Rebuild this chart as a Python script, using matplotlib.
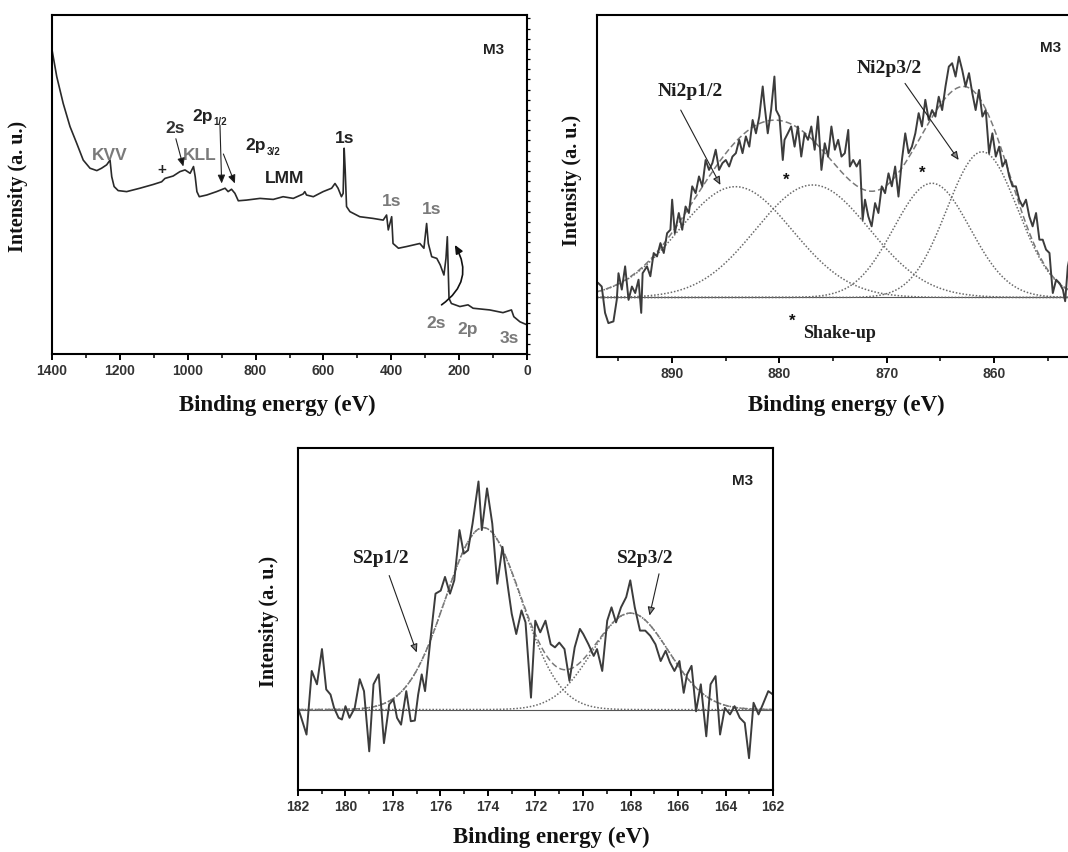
import numpy as np
import matplotlib
matplotlib.use("Agg")
import matplotlib.pyplot as plt
from matplotlib.ticker import MultipleLocator

# ---- survey spectrum (binding energy, intensity a.u.) ----
survey_be = [1400, 1386, 1367, 1347, 1327, 1308, 1288, 1268, 1254, 1239,
             1229, 1224, 1217, 1205, 1180, 1141, 1102, 1077, 1067, 1043,
             1023, 1008, 993, 983, 978, 973, 966, 944, 915, 890,
             881, 871, 861, 851, 827, 787, 748, 719, 689, 660,
             655, 650, 630, 601, 576, 566, 557, 547, 542, 539,
             536, 532, 522, 493, 454, 424, 414, 409, 399, 395,
             379, 355, 316, 304, 296, 291, 281, 266, 256, 245,
             239, 235, 230, 223, 198, 174, 159, 110, 71, 46,
             39, 21, 0]
survey_int = [89.7, 81.8, 73.9, 67.1, 62.1, 57.2, 54.8, 54.1, 54.8, 55.8,
              57.2, 52.3, 49.4, 48.2, 47.9, 48.9, 50.0, 50.8, 51.8, 52.5,
              53.8, 54.3, 53.3, 55.3, 52.3, 47.9, 46.4, 46.9, 47.9, 48.9,
              47.9, 48.6, 47.4, 45.2, 45.4, 45.9, 45.6, 46.4, 45.9, 47.2,
              47.9, 46.9, 46.4, 47.9, 48.9, 50.3, 48.9, 46.4, 47.4, 60.7,
              54.3, 43.5, 42.0, 40.5, 40.0, 39.5, 41.0, 36.6, 40.5, 32.6,
              31.2, 31.7, 32.6, 31.2, 38.5, 32.6, 28.7, 28.2, 26.3, 23.3,
              28.2, 34.6, 16.4, 14.9, 14.0, 14.5, 13.5, 13.0, 12.2, 13.0,
              11.0, 9.5, 8.6]

# ---- Ni 2p spectrum ----
ni_be = [896.88, 896.56, 896.25, 895.94, 895.47, 895.16, 895.0, 894.69, 894.38, 894.06,
         893.75, 893.44, 893.13, 892.88, 892.75, 892.34, 892.03, 891.72, 891.41, 891.09,
         890.78, 890.47, 890.16, 890.0, 889.75, 889.38, 889.06, 888.75, 888.44, 888.13,
         887.81, 887.5, 887.19, 886.88, 886.56, 886.25, 885.94, 885.63, 885.31, 885.0,
         884.69, 884.38, 884.06, 883.75, 883.44, 883.13, 882.81, 882.5, 882.19, 881.88,
         881.56, 881.41, 881.09, 880.78, 880.47, 880.31, 880.0, 879.69, 879.53, 879.22,
         878.91, 878.59, 878.28, 877.97, 877.66, 877.34, 877.03, 876.72, 876.41, 876.09,
         875.78, 875.47, 875.16, 874.84, 874.53, 874.22, 873.91, 873.59, 873.44, 873.13,
         872.81, 872.5, 872.25, 872.03, 871.72, 871.41, 871.09, 870.78, 870.47, 870.16,
         869.84, 869.53, 869.22, 868.91, 868.59, 868.28, 867.97, 867.66, 867.34, 867.03,
         866.72, 866.41, 866.09, 865.78, 865.47, 865.16, 864.84, 864.53, 864.22, 863.91,
         863.59, 863.28, 862.97, 862.66, 862.34, 862.03, 861.72, 861.41, 861.09, 860.78,
         860.47, 860.16, 859.84, 859.53, 859.22, 858.91, 858.59, 858.28, 857.97, 857.66,
         857.34, 857.03, 856.72, 856.41, 856.09, 855.78, 855.47, 855.16, 854.84, 854.69,
         854.53, 854.22, 853.91, 853.59, 853.38, 853.13, 852.88, 852.69]
ni_int = [21.6, 20.6, 12.9, 9.9, 10.4, 16.7, 24.5, 19.7, 26.5, 16.7,
          20.6, 18.7, 22.6, 12.9, 24.5, 26.5, 23.6, 30.4, 29.4, 33.3,
          30.4, 36.2, 37.2, 46.0, 36.2, 42.1, 37.2, 44.0, 42.1, 49.9,
          47.9, 52.8, 49.9, 57.6, 54.7, 56.7, 60.6, 54.7, 56.7, 57.6,
          55.7, 58.6, 59.6, 63.5, 59.6, 64.5, 61.5, 69.3, 65.4, 70.3,
          79.1, 74.2, 65.4, 72.2, 82.0, 72.2, 70.3, 57.6, 63.5, 65.4,
          67.4, 61.5, 67.4, 58.6, 65.4, 63.5, 67.4, 60.6, 70.3, 54.7,
          62.5, 58.6, 67.4, 60.6, 63.5, 58.6, 59.6, 66.4, 55.7, 57.6,
          55.7, 57.6, 40.1, 46.0, 41.1, 38.2, 45.0, 42.1, 49.9, 47.9,
          53.7, 49.9, 55.7, 46.9, 57.6, 65.4, 59.6, 61.5, 65.4, 71.3,
          67.4, 75.2, 69.3, 72.2, 70.3, 76.1, 72.2, 79.1, 84.9, 85.9,
          82.0, 87.8, 83.9, 79.1, 83.0, 77.1, 72.2, 78.1, 70.3, 72.2,
          59.6, 65.4, 58.6, 61.5, 55.7, 57.6, 52.8, 49.9, 49.9, 46.0,
          44.0, 46.0, 41.1, 38.2, 42.1, 34.3, 34.3, 31.4, 30.4, 24.5,
          18.7, 22.6, 21.6, 19.7, 16.3, 26.5, 30.4, 27.5]
ni_base = 17.4
# fitted components: center (eV), height above baseline, sigma (eV)
ni_centers = [884.1, 876.9, 865.8, 861.1]
ni_heights = [32.4, 32.9, 33.4, 42.6]
ni_sigmas = [5.3, 5.3, 3.56, 3.3]

# ---- S 2p spectrum ----
s_be = [182.0, 181.86, 181.64, 181.42, 181.20, 180.99, 180.81, 180.63, 180.48, 180.29,
        180.15, 180.0, 179.83, 179.61, 179.40, 179.22, 179.0, 178.82, 178.60, 178.38,
        178.16, 177.98, 177.83, 177.66, 177.44, 177.25, 177.08, 176.94, 176.79, 176.65,
        176.43, 176.21, 175.99, 175.81, 175.60, 175.42, 175.20, 175.02, 174.84, 174.65,
        174.40, 174.26, 174.04, 173.82, 173.61, 173.39, 173.14, 173.0, 172.81, 172.59,
        172.42, 172.19, 172.01, 171.80, 171.58, 171.36, 171.18, 171.0, 170.78, 170.57,
        170.35, 170.13, 169.99, 169.77, 169.55, 169.41, 169.19, 168.98, 168.80, 168.61,
        168.40, 168.18, 168.01, 167.82, 167.60, 167.38, 167.17, 166.95, 166.73, 166.52,
        166.34, 166.15, 165.94, 165.76, 165.62, 165.43, 165.24, 165.04, 164.81, 164.63,
        164.42, 164.23, 164.03, 163.81, 163.62, 163.40, 163.19, 163.01, 162.82, 162.61,
        162.43, 162.20, 162.0]
s_int = [24.0, 21.1, 16.2, 34.8, 30.9, 41.2, 29.4, 27.9, 24.0, 21.1,
         20.6, 24.5, 21.1, 24.0, 32.4, 28.9, 11.3, 30.9, 33.8, 13.7,
         25.0, 26.5, 21.1, 19.1, 28.9, 20.1, 20.3, 27.9, 33.8, 28.9,
         43.6, 57.4, 58.3, 62.3, 57.4, 61.3, 76.0, 69.1, 70.1, 77.9,
         90.2, 76.0, 88.2, 77.9, 60.3, 71.1, 58.3, 51.5, 45.6, 52.5,
         49.0, 27.0, 49.5, 46.1, 49.5, 42.6, 41.7, 43.1, 41.2, 31.9,
         41.7, 47.1, 45.6, 42.6, 39.2, 41.2, 34.8, 49.5, 53.4, 49.0,
         53.4, 56.4, 61.3, 53.4, 46.6, 46.6, 45.1, 42.6, 37.7, 40.7,
         37.3, 34.8, 37.7, 28.4, 33.8, 36.3, 23.0, 30.9, 15.7, 30.9,
         33.3, 16.2, 24.0, 22.1, 24.5, 21.1, 19.6, 9.3, 25.5, 22.1,
         25.0, 28.9, 27.9]
s_base = 23.5
s_centers = [174.2, 168.0]
s_heights = [53.2, 28.2]
s_sigmas = [1.6, 1.6]

SANS = "Liberation Sans"
SERIF = "Liberation Serif"
LINE = "#3c3c3c"
GRAY = "#7a7a7a"

fig = plt.figure(figsize=(10.68, 8.52), dpi=100)
ax1 = fig.add_axes([0.0487, 0.5845, 0.4448, 0.3979])
ax2 = fig.add_axes([0.559, 0.581, 0.4522, 0.4014])
ax3 = fig.add_axes([0.279, 0.0728, 0.4448, 0.4014])


def style(ax):
    for sp in ax.spines.values():
        sp.set_linewidth(1.5)
    ax.tick_params(axis="x", which="major", direction="out", length=4.5, width=1.4,
                   labelsize=10, pad=3)
    ax.tick_params(axis="x", which="minor", direction="out", length=3, width=1.1)
    for lab in ax.get_xticklabels():
        lab.set_fontfamily(SANS)
        lab.set_fontweight("bold")
        lab.set_color("#333333")
    ax.set_yticks([])
    ax.set_ylim(0, 100)


def gauss(x, c, h, s):
    return h * np.exp(-(x - c) ** 2 / (2 * s ** 2))


def arrow(ax, xy, xytext, head="0.55"):
    ax.annotate("", xy=xy, xytext=xytext,
                arrowprops=dict(arrowstyle="-|>,head_length=0.5,head_width=0.22",
                                ec="#222222", fc=head, lw=0.8, shrinkA=0, shrinkB=0))


# ---------------- survey ----------------
ax1.plot(survey_be, survey_int, color="#2a2a2a", lw=1.2)
ax1.set_xlim(1400, 0)
ax1.xaxis.set_major_locator(MultipleLocator(200))
ax1.xaxis.set_minor_locator(MultipleLocator(100))
style(ax1)
ax1.yaxis.set_ticks_position("right")
ax1.yaxis.set_minor_locator(MultipleLocator(3))
ax1.tick_params(axis="y", which="minor", direction="out", length=2.5, width=0.9)

atxt = dict(family=SANS, fontweight="bold", fontsize=12.5, ha="center", va="center")
ax1.text(100, 89.7, "M3", color="#222222", **{**atxt, "fontsize": 11})
ax1.text(1229, 58.7, "KVV", color=GRAY, **atxt)
ax1.text(1038, 66.6, "2s", color="#333333", **atxt)
ax1.text(964, 58.7, "KLL", color=GRAY, **atxt)
ax1.text(955, 70.2, "2p", color="#222222", **atxt)
ax1.text(923, 68.4, "1/2", color="#222222", family=SANS, fontweight="bold", fontsize=7,
         ha="left", va="center")
ax1.text(800, 61.5, "2p", color="#222222", **atxt)
ax1.text(768, 59.7, "3/2", color="#222222", family=SANS, fontweight="bold", fontsize=7,
         ha="left", va="center")
ax1.text(714, 51.8, "LMM", color="#222222", **atxt)
ax1.text(537, 63.6, "1s", color="#222222", **atxt)
ax1.text(399, 44.9, "1s", color=GRAY, **atxt)
ax1.text(282, 42.5, "1s", color=GRAY, **atxt)
ax1.text(267, 9.0, "2s", color=GRAY, **atxt)
ax1.text(174, 7.1, "2p", color=GRAY, **atxt)
ax1.text(51, 4.6, "3s", color=GRAY, **atxt)
ax1.text(1077, 54.3, "+", color="#222222", **{**atxt, "fontsize": 11})
arrow(ax1, (1013, 55.3), (1035, 63.5), head="#111111")
arrow(ax1, (900, 50.3), (905, 67.5), head="#111111")
arrow(ax1, (861, 50.3), (895, 59.0), head="#111111")
ax1.annotate("", xy=(213, 32.2), xytext=(252, 14.5),
             arrowprops=dict(arrowstyle="-|>,head_length=0.5,head_width=0.22",
                             ec="#111111", fc="#111111", lw=1.2,
                             connectionstyle="arc3,rad=0.45", shrinkA=0, shrinkB=0))

# ---------------- Ni 2p ----------------
ni_x = np.linspace(897, 852, 400)
ni_comp = [gauss(ni_x, c, h, s) for c, h, s in zip(ni_centers, ni_heights, ni_sigmas)]
ax2.axhline(ni_base, color="#555555", lw=0.8)
for comp in ni_comp:
    ax2.plot(ni_x, ni_base + comp, color="#6a6a6a", lw=1.1, ls=(0, (1, 1.2)))
ax2.plot(ni_x, ni_base + np.sum(ni_comp, axis=0), color=GRAY, lw=1.1, ls=(0, (4, 2)))
ax2.plot(ni_be, ni_int, color=LINE, lw=1.4)
ax2.set_xlim(897, 852)
ax2.xaxis.set_major_locator(MultipleLocator(10))
ax2.xaxis.set_minor_locator(MultipleLocator(5))
style(ax2)
ax2.spines["right"].set_visible(False)

ttxt = dict(family=SERIF, fontweight="bold", fontsize=14, ha="center", va="center",
            color="#1e1e1e")
ax2.text(854.7, 90.3, "M3", family=SANS, fontweight="bold", fontsize=11, ha="center",
         va="center", color="#222222")
ax2.text(888.3, 77.6, "Ni2p1/2", **ttxt)
ax2.text(869.8, 84.4, "Ni2p3/2", **ttxt)
arrow(ax2, (885.5, 50.3), (889.2, 72.2))
arrow(ax2, (863.3, 57.6), (868.3, 80.0))
ax2.text(879.4, 51.8, "*", family=SANS, fontweight="bold", fontsize=12, ha="center",
         va="center", color="#111111")
ax2.text(866.7, 53.7, "*", family=SANS, fontweight="bold", fontsize=12, ha="center",
         va="center", color="#111111")
ax2.text(878.8, 10.4, "*", family=SANS, fontweight="bold", fontsize=12, ha="center",
         va="center", color="#111111")
ax2.text(877.8, 7.0, "Shake-up", family=SERIF, fontweight="bold", fontsize=13,
         ha="left", va="center", color="#1e1e1e")

# ---------------- S 2p ----------------
s_x = np.linspace(182, 162, 400)
s_comp = [gauss(s_x, c, h, s) for c, h, s in zip(s_centers, s_heights, s_sigmas)]
ax3.axhline(s_base, color="#555555", lw=0.8)
for comp in s_comp:
    ax3.plot(s_x, s_base + comp, color="#6a6a6a", lw=1.1, ls=(0, (1, 1.2)))
ax3.plot(s_x, s_base + np.sum(s_comp, axis=0), color=GRAY, lw=1.1, ls=(0, (4, 2)))
ax3.plot(s_be, s_int, color=LINE, lw=1.4)
ax3.set_xlim(182, 162)
ax3.xaxis.set_major_locator(MultipleLocator(2))
ax3.xaxis.set_minor_locator(MultipleLocator(1))
style(ax3)

ax3.text(163.3, 90.2, "M3", family=SANS, fontweight="bold", fontsize=11, ha="center",
         va="center", color="#222222")
ax3.text(178.5, 67.6, "S2p1/2", **ttxt)
ax3.text(167.4, 67.6, "S2p3/2", **ttxt)
arrow(ax3, (177.0, 40.2), (178.16, 62.7))
arrow(ax3, (167.2, 51.0), (166.8, 63.2))

# axis labels
lab = dict(family=SERIF, fontweight="bold", ha="center", va="center", color="#111111")
fig.text(277 / 1068, 1 - 405 / 852, "Binding energy (eV)", fontsize=16.5, **lab)
fig.text(846 / 1068, 1 - 405 / 852, "Binding energy (eV)", fontsize=16.5, **lab)
fig.text(551 / 1068, 1 - 837 / 852, "Binding energy (eV)", fontsize=16.5, **lab)
fig.text(18 / 1068, 1 - 186 / 852, "Intensity (a. u.)", fontsize=14.5, rotation=90, **lab)
fig.text(572 / 1068, 1 - 180 / 852, "Intensity (a. u.)", fontsize=14.5, rotation=90, **lab)
fig.text(269 / 1068, 1 - 621 / 852, "Intensity (a. u.)", fontsize=14.5, rotation=90, **lab)

fig.savefig("out.png", dpi=100)
